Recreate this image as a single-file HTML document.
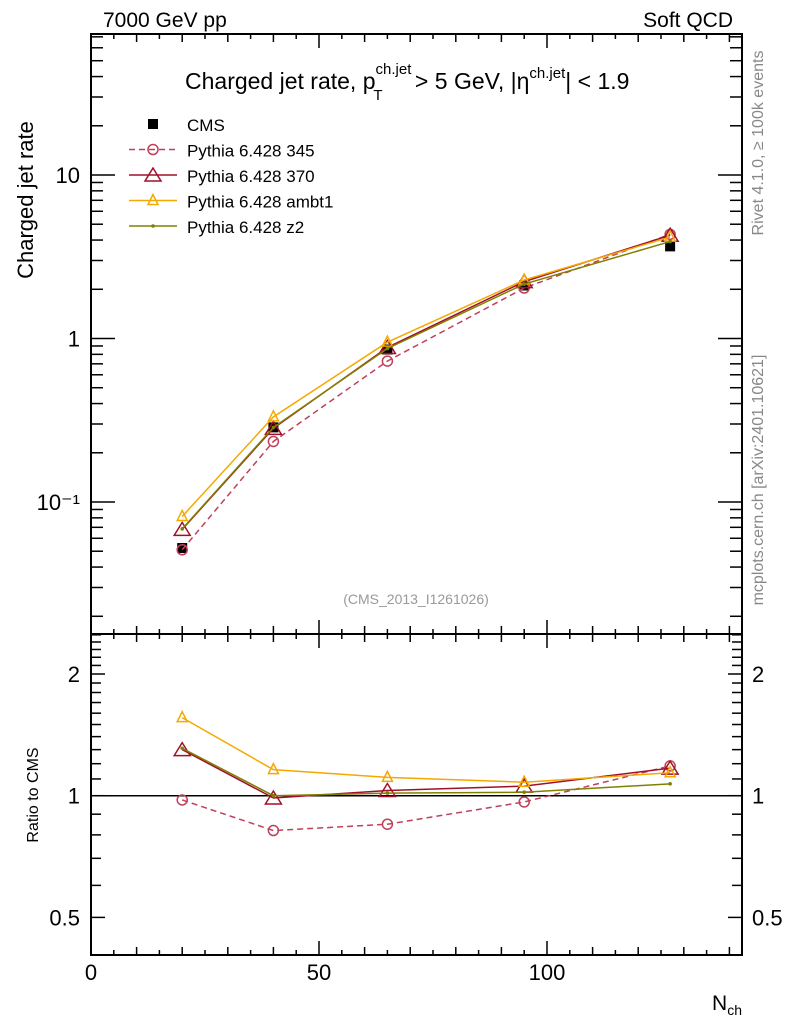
<!DOCTYPE html>
<html><head><meta charset="utf-8"><style>
body{margin:0;background:#fff;}
svg{display:block;font-family:"Liberation Sans",sans-serif;}
</style></head><body>
<svg id="c" width="786" height="1024" viewBox="0 0 786 1024">
<text x="103" y="27" font-size="21">7000 GeV pp</text>
<text x="733" y="27" font-size="21" text-anchor="end">Soft QCD</text>
<text x="185" y="89" font-size="23">Charged jet rate, p<tspan font-size="15" dy="-15">ch.jet</tspan><tspan font-size="15" dx="-38" dy="26">T</tspan><tspan dx="26" dy="-11"> &gt; 5 GeV,  |η</tspan><tspan font-size="15" dy="-11">ch.jet</tspan><tspan dy="11">| &lt; 1.9</tspan></text>
<text transform="translate(33,200) rotate(-90)" font-size="22" text-anchor="middle">Charged jet rate</text>
<text transform="translate(38,795) rotate(-90)" font-size="16" text-anchor="middle">Ratio to CMS</text>
<text x="742" y="1010" font-size="21" text-anchor="end">N<tspan font-size="14" dy="5">ch</tspan></text>
<text transform="translate(763,143) rotate(-90)" font-size="16" fill="#888" text-anchor="middle">Rivet 4.1.0, ≥ 100k events</text>
<text transform="translate(763,480) rotate(-90)" font-size="16" fill="#888" text-anchor="middle">mcplots.cern.ch [arXiv:2401.10621]</text>
<text x="416" y="604" font-size="14" fill="#999" text-anchor="middle">(CMS_2013_I1261026)</text>
<g id="axes"></g>
<g id="marks"></g>
<g id="legend"></g>
</svg>
<script>
const nch = [20, 40, 65, 95, 127];
const cmsRate = [0.0523, 0.286, 0.856, 2.11, 3.66];
const ratio345 = [0.976, 0.82, 0.85, 0.965, 1.185];
const ratio370 = [1.30, 0.987, 1.03, 1.056, 1.17];
const ratioAmbt1 = [1.56, 1.16, 1.11, 1.08, 1.14];
const ratioZ2 = [1.31, 1.00, 1.015, 1.02, 1.07];
const mainTicks = [0.1, 1, 10];
const mainTickLabels = ["10⁻¹", "1", "10"];
const ratioTicks = [0.5, 1, 2];
const ratioTickLabels = ["0.5", "1", "2"];
const xTicks = [0, 50, 100];

const NS = "http://www.w3.org/2000/svg";
const L = 91, R = 742, T = 34, MB = 634, RB = 955;
const X = v => L + v * 4.56;
const Y = v => 175 - Math.log10(v / 10) * 163.5;
const YR = v => 795.7 - Math.log2(v) * 121.7;
function mk(tag, attrs, parent) {
  const e = document.createElementNS(NS, tag);
  for (const k in attrs) e.setAttribute(k, attrs[k]);
  parent.appendChild(e); return e;
}
const ax = document.getElementById('axes');
const mg = document.getElementById('marks');
const lg = document.getElementById('legend');
let e;
e = mk('rect', {x: L, y: T, width: R - L, height: MB - T, fill: 'none', stroke: '#000', 'stroke-width': 2}, ax);


e = mk('rect', {x: L, y: MB, width: R - L, height: RB - MB, fill: 'none', stroke: '#000', 'stroke-width': 2}, ax);


for (let v = 0; v <= 140; v += 5) {
  const big = v % 50 === 0, len = big ? 14 : (v % 10 === 0 ? 8 : 5);
  for (const [y0, d] of [[T, 1], [MB, -1], [MB, 1], [RB, -1]]) {
    mk('line', {x1: X(v), x2: X(v), y1: y0, y2: y0 + d * len, stroke: '#000', 'stroke-width': 1.5}, ax);
  }
}
xTicks.forEach(v => {
  e = mk('text', {x: X(v), y: 980, 'font-size': 22, 'text-anchor': 'middle'}, ax);
  e.textContent = v;
  
  
});
for (let d = 0.01; d < 100; d *= 10) {
  for (let m = 1; m <= 9; m++) {
    const v = d * m, y = Y(v);
    if (y < T || y > MB) continue;
    const len = m === 1 ? 24 : 12;
    mk('line', {x1: L, x2: L + len, y1: y, y2: y, stroke: '#000', 'stroke-width': 1.5}, ax);
    mk('line', {x1: R, x2: R - len, y1: y, y2: y, stroke: '#000', 'stroke-width': 1.5}, ax);
  }
}
mainTicks.forEach((v, i) => {
  e = mk('text', {x: 80, y: Y(v) + 8, 'font-size': 22, 'text-anchor': 'end'}, ax);
  e.textContent = mainTickLabels[i];
  
  
});
for (let v = 0.4; v <= 2.5001; v += 0.1) {
  const y = YR(v);
  if (y < MB || y > RB) continue;
  const maj = ratioTicks.some(t => Math.abs(t - v) < 1e-6);
  const len = maj ? 14 : 10;
  mk('line', {x1: L, x2: L + len, y1: y, y2: y, stroke: '#000', 'stroke-width': 1.5}, ax);
  mk('line', {x1: R, x2: R - len, y1: y, y2: y, stroke: '#000', 'stroke-width': 1.5}, ax);
}
ratioTicks.forEach((v, i) => {
  e = mk('text', {x: 80, y: YR(v) + 8, 'font-size': 22, 'text-anchor': 'end'}, ax);
  e.textContent = ratioTickLabels[i];
  
  
  e = mk('text', {x: 752, y: YR(v) + 8, 'font-size': 22}, ax);
  e.textContent = ratioTickLabels[i];
  
  
});
e = mk('line', {x1: L, x2: R, y1: YR(1), y2: YR(1), stroke: '#000', 'stroke-width': 1.5}, ax);



function marker(type, x, y, col, parent) {
  if (type === 'circle') return mk('circle', {cx: x, cy: y, r: 5, fill: 'none', stroke: col, 'stroke-width': 1.5}, parent);
  if (type === 'tri') return mk('polygon', {points: `${x},${y-7} ${x-8},${y+6} ${x+8},${y+6}`, fill: 'none', stroke: col, 'stroke-width': 1.5}, parent);
  if (type === 'small') return mk('polygon', {points: `${x},${y-6} ${x-5},${y+4} ${x+5},${y+4}`, fill: 'none', stroke: col, 'stroke-width': 1.5}, parent);
  if (type === 'dot') return mk('circle', {cx: x, cy: y, r: 1.8, fill: col}, parent);
  return mk('rect', {x: x - 5, y: y - 5, width: 10, height: 10, fill: col}, parent);
}
const series = [
  {name: 'pythia-345', r: ratio345, col: '#c0405a', dash: '6,4', m: 'circle', label: 'Pythia 6.428 345'},
  {name: 'pythia-370', r: ratio370, col: '#a0102a', dash: '', m: 'tri', label: 'Pythia 6.428 370'},
  {name: 'pythia-ambt1', r: ratioAmbt1, col: '#f5a800', dash: '', m: 'small', label: 'Pythia 6.428 ambt1'},
  {name: 'pythia-z2', r: ratioZ2, col: '#808000', dash: '', m: 'dot', label: 'Pythia 6.428 z2'}
];
nch.forEach((x, i) => {
  e = marker('sq', X(x), Y(cmsRate[i]), '#000', mg);
  
  
});
series.forEach(s => {
  const vals = nch.map((x, i) => cmsRate[i] * s.r[i]);
  e = mk('polyline', {points: nch.map((x, i) => `${X(x)},${Y(vals[i])}`).join(' '), fill: 'none', stroke: s.col, 'stroke-width': 1.5, 'stroke-dasharray': s.dash}, mg);
  
  
  e = mk('polyline', {points: nch.map((x, i) => `${X(x)},${YR(s.r[i])}`).join(' '), fill: 'none', stroke: s.col, 'stroke-width': 1.5, 'stroke-dasharray': s.dash}, mg);
  
  
  nch.forEach((x, i) => {
    e = marker(s.m, X(x), Y(vals[i]), s.col, mg);
    
    
    e = marker(s.m, X(x), YR(s.r[i]), s.col, mg);
    
    
  });
});
const ly0 = 124, ldy = 25.5;
e = marker('sq', 153, ly0, '#000', lg);


e = mk('text', {x: 187, y: ly0 + 7, 'font-size': 17}, lg);
e.textContent = 'CMS';


series.forEach((s, i) => {
  const y = ly0 + ldy * (i + 1);
  mk('line', {x1: 129, x2: 177, y1: y, y2: y, stroke: s.col, 'stroke-width': 1.5, 'stroke-dasharray': s.dash}, lg);
  marker(s.m, 153, y, s.col, lg);
  e = mk('text', {x: 187, y: y + 7, 'font-size': 17}, lg);
  e.textContent = s.label;
  
  
});
</script>
</body></html>
